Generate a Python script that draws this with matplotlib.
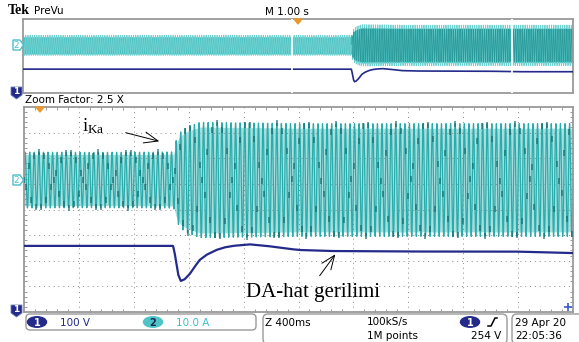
import numpy as np
import matplotlib
matplotlib.use("Agg")
import matplotlib.pyplot as plt
from matplotlib.patches import Polygon, FancyBboxPatch, Ellipse

# ---------------- data ----------------
# channel settings
V_PER_DIV = 100.0      # ch1 100 V/div
A_PER_DIV = 10.0       # ch2 10.0 A/div
CH1_POS = -4.0         # ch1 ground marker (div)
CH2_POS = 1.15         # ch2 zero marker (div)
MAIN_SPAN = 4.0        # Z 400ms x 10 div
PREV_SPAN = 10.0       # M 1.00 s x 10 div
WINDOW_START = 4.884   # zoom window start inside the preview record (s)
CARRIER_HZ = 30.0      # apparent current ripple frequency on screen

# DA-bus voltage (ch1), main-window time in s, value in V
volt_t = [0.0, 0.5, 1.0, 1.086, 1.098, 1.110, 1.122, 1.142, 1.171, 1.207,
          1.244, 1.28, 1.329, 1.401, 1.46, 1.522, 1.644, 1.767, 1.935, 2.007,
          2.225, 2.5, 2.829, 3.2, 3.556, 3.731, 3.85, 4.0]
volt_v = [258, 258, 258, 258, 229, 190, 148, 121, 128, 148,
          177, 203, 223, 242, 252, 258, 264, 258, 246, 242,
          238, 237, 236, 236, 236, 234, 232, 230]

# phase current i_Ka (ch2) envelope amplitude, A
cur_t = [0.0, 0.5, 1.0, 1.091, 1.105, 1.135, 1.185, 1.28, 1.6, 2.0, 3.0, 4.0]
cur_a = [10.9, 10.8, 10.9, 11.0, 15.0, 18.5, 20.5, 22.5, 22.3, 22.0, 22.0, 22.0]

# ---------------- colours ----------------
CYAN = "#2aacac"
CYAN_FILL = "#a9dede"
CYAN_LIGHT = "#6fd0d0"
TEAL_DARK = "#0f6a6a"
NAVY = "#232a8a"
FRAME = "#9a9a9a"
ORANGE = "#e8982c"

W, H = 579, 342
fig = plt.figure(figsize=(W / 100, H / 100), dpi=100)
fig.patch.set_facecolor("white")


def fr(x0, y0, x1, y1):
    return [x0 / W, 1 - y1 / H, (x1 - x0) / W, (y1 - y0) / H]


# ---------------- main (zoomed) panel ----------------
ax = fig.add_axes(fr(24, 107, 573, 312))
ax.set_xlim(0, MAIN_SPAN)
ax.set_ylim(-4, 4)

t = np.linspace(0, MAIN_SPAN, 24000)
amp = np.interp(t, cur_t, cur_a)
ax.fill_between(t, -amp * 0.92 / A_PER_DIV + CH2_POS, amp * 0.92 / A_PER_DIV + CH2_POS,
                color=CYAN_FILL, lw=0, zorder=1)
i_sig = amp * np.sin(2 * np.pi * CARRIER_HZ * t)
ax.plot(t, i_sig / A_PER_DIV + CH2_POS, color=CYAN, lw=0.9, zorder=2)
# darker aliasing traces, like the scope display
ts = np.arange(0, MAIN_SPAN, 1 / (2 * CARRIER_HZ / 1.0833))
amp_s = np.interp(ts, cur_t, cur_a)
ax.plot(ts, amp_s * np.sin(2 * np.pi * CARRIER_HZ * ts) / A_PER_DIV + CH2_POS,
        ls="none", marker="|", ms=4, mew=1.1, color=TEAL_DARK, alpha=0.8, zorder=3)

tv = np.linspace(0, MAIN_SPAN, 2000)
vv = np.interp(tv, volt_t, volt_v)
ax.plot(tv, vv / V_PER_DIV + CH1_POS, color=NAVY, lw=1.6, zorder=4)

ax.set_xticks(np.arange(0, MAIN_SPAN + 1e-9, MAIN_SPAN / 10))
ax.set_yticks(np.arange(-4, 4.01, 1))
ax.set_xticks(np.arange(0, MAIN_SPAN + 1e-9, MAIN_SPAN / 50), minor=True)
ax.set_yticks(np.arange(-4, 4.01, 0.2), minor=True)
ax.grid(True, which="major", color="#8a8a8a", lw=0.7, ls=(0, (1, 4)))
ax.tick_params(which="both", direction="in", top=True, right=True,
               labelbottom=False, labelleft=False, color="#8a8a8a")
ax.tick_params(which="major", length=0)
ax.tick_params(which="minor", length=2, width=0.6)
for s in ax.spines.values():
    s.set_color(FRAME)
    s.set_linewidth(1.3)

# ---------------- preview panel ----------------
px = fig.add_axes(fr(23, 19, 573, 93))
px.set_xlim(0, PREV_SPAN)
px.set_ylim(-4, 4)
tp = np.linspace(0, PREV_SPAN, 30000)
tm = np.clip(tp - WINDOW_START, 0, MAIN_SPAN)
amp_p = np.interp(tm, cur_t, cur_a)
px.fill_between(tp, -amp_p / A_PER_DIV * 0.85 + CH2_POS, amp_p / A_PER_DIV * 0.85 + CH2_POS,
                color="#3fbdbd", lw=0, zorder=1)
px.plot(tp, amp_p * np.sin(2 * np.pi * CARRIER_HZ * tp) / A_PER_DIV + CH2_POS,
        color=CYAN_LIGHT, lw=0.5, zorder=2)
px.plot(tp, np.where(tm > 1.09, 1, np.nan) * amp_p * np.sin(2 * np.pi * CARRIER_HZ * 1.01 * tp)
        / A_PER_DIV * 0.8 + CH2_POS, color="#1f8f8f", lw=0.5, alpha=0.8, zorder=2)
vp = np.interp(tm, volt_t, volt_v)
px.plot(tp, vp / V_PER_DIV + CH1_POS, color=NAVY, lw=1.2, zorder=3)
for xw in (WINDOW_START, WINDOW_START + MAIN_SPAN):
    px.axvline(xw, color="white", lw=1.3, zorder=5)
px.set_xticks([])
px.set_yticks([])
for s in px.spines.values():
    s.set_color(FRAME)
    s.set_linewidth(1.3)

# ---------------- overlay in pixel coordinates ----------------
ov = fig.add_axes([0, 0, 1, 1])
ov.set_xlim(0, W)
ov.set_ylim(H, 0)
ov.axis("off")
ov.patch.set_alpha(0)

sans = "DejaVu Sans"
ov.text(8, 11, "Tek", fontsize=10, fontweight="bold", family="Liberation Serif",
        va="center", ha="left")
ov.text(34, 11, "PreVu", fontsize=7.5, family=sans, va="center", ha="left")
ov.text(265, 12, "M 1.00 s", fontsize=7.5, family=sans, va="center", ha="left")
ov.text(25, 100, "Zoom Factor: 2.5 X", fontsize=7.5, family=sans, va="center", ha="left")

# trigger position markers
ov.add_patch(Polygon([(294, 19), (302, 19), (298, 24)], closed=True, color=ORANGE))
ov.add_patch(Polygon([(36, 107), (44, 107), (40, 112)], closed=True, color=ORANGE))

# channel 2 markers
for yc in (45, 180):
    ov.add_patch(Polygon([(13, yc - 5), (20, yc - 5), (23.5, yc), (20, yc + 5), (13, yc + 5)],
                         closed=True, fc="white", ec="#4cbfc9", lw=1.0))
    ov.text(16.5, yc + 0.5, "2", fontsize=6.5, color="#4cbfc9", family=sans,
            ha="center", va="center")
# channel 1 markers
for yc in (93, 311):
    ov.add_patch(Polygon([(11, yc - 6), (22, yc - 6), (22, yc + 2), (16.5, yc + 6), (11, yc + 2)],
                         closed=True, fc=NAVY, ec="#7080b0", lw=0.6))
    ov.text(16.5, yc - 1.5, "1", fontsize=6.5, color="white", family=sans,
            ha="center", va="center", fontweight="bold")

# bottom-right small marker
ov.plot([568], [307], marker="+", color="#3a5ad0", ms=6, mew=1.2)

# annotations
ov.text(82, 131, r"$\mathregular{i_{Ka}}$", fontsize=13.5, family="Liberation Serif",
        ha="left", va="baseline")
ov.annotate("", xy=(162, 142), xytext=(123, 132),
            arrowprops=dict(arrowstyle="->,head_length=1.0,head_width=0.4",
                            color="black", lw=0.7))
ov.text(246, 297, "DA-hat gerilimi", fontsize=15, family="Liberation Serif",
        ha="left", va="baseline")
ov.annotate("", xy=(337, 252), xytext=(318, 278),
            arrowprops=dict(arrowstyle="->,head_length=1.0,head_width=0.4",
                            color="black", lw=0.7))

# status bar boxes
ov.add_patch(FancyBboxPatch((26, 314), 230, 16, boxstyle="round,pad=0,rounding_size=4",
                            fc="white", ec=FRAME, lw=1.0))
ov.add_patch(FancyBboxPatch((263, 314), 244, 30, boxstyle="round,pad=0,rounding_size=5",
                            fc="white", ec=FRAME, lw=1.0))
ov.add_patch(FancyBboxPatch((512, 314), 72, 30, boxstyle="round,pad=0,rounding_size=5",
                            fc="white", ec=FRAME, lw=1.0))

ov.add_patch(Ellipse((37, 322), 19, 10.5, color=NAVY))
ov.text(37, 322.5, "1", fontsize=7, color="white", family=sans, ha="center", va="center",
        fontweight="bold")
ov.text(60, 322.5, "100 V", fontsize=7.5, color=NAVY, family=sans, ha="left", va="center")
ov.add_patch(Ellipse((153, 322), 19, 10.5, color="#4fc4c8"))
ov.text(153, 322.5, "2", fontsize=7, color="#1a2a50", family=sans, ha="center", va="center",
        fontweight="bold")
ov.text(176, 322.5, "10.0 A", fontsize=7.5, color="#3fbfc8", family=sans, ha="left",
        va="center")

ov.text(265, 322.5, "Z 400ms", fontsize=7.5, family=sans, ha="left", va="center")
ov.text(367, 322.5, "100kS/s", fontsize=7.5, family=sans, ha="left", va="center")
ov.text(367, 336, "1M points", fontsize=7.5, family=sans, ha="left", va="center")
ov.add_patch(Ellipse((470, 322), 19, 10.5, color=NAVY))
ov.text(470, 322.5, "1", fontsize=7, color="white", family=sans, ha="center", va="center",
        fontweight="bold")
ov.plot([488, 491, 495, 497], [326, 326, 318, 318], color="black", lw=1.1)
ov.text(501, 336, "254 V", fontsize=7.5, family=sans, ha="right", va="center")
ov.text(515, 322.5, "29 Apr 20", fontsize=7.5, family=sans, ha="left", va="center")
ov.text(515, 336, "22:05:36", fontsize=7.5, family=sans, ha="left", va="center")

fig.savefig("out.png", dpi=100)
